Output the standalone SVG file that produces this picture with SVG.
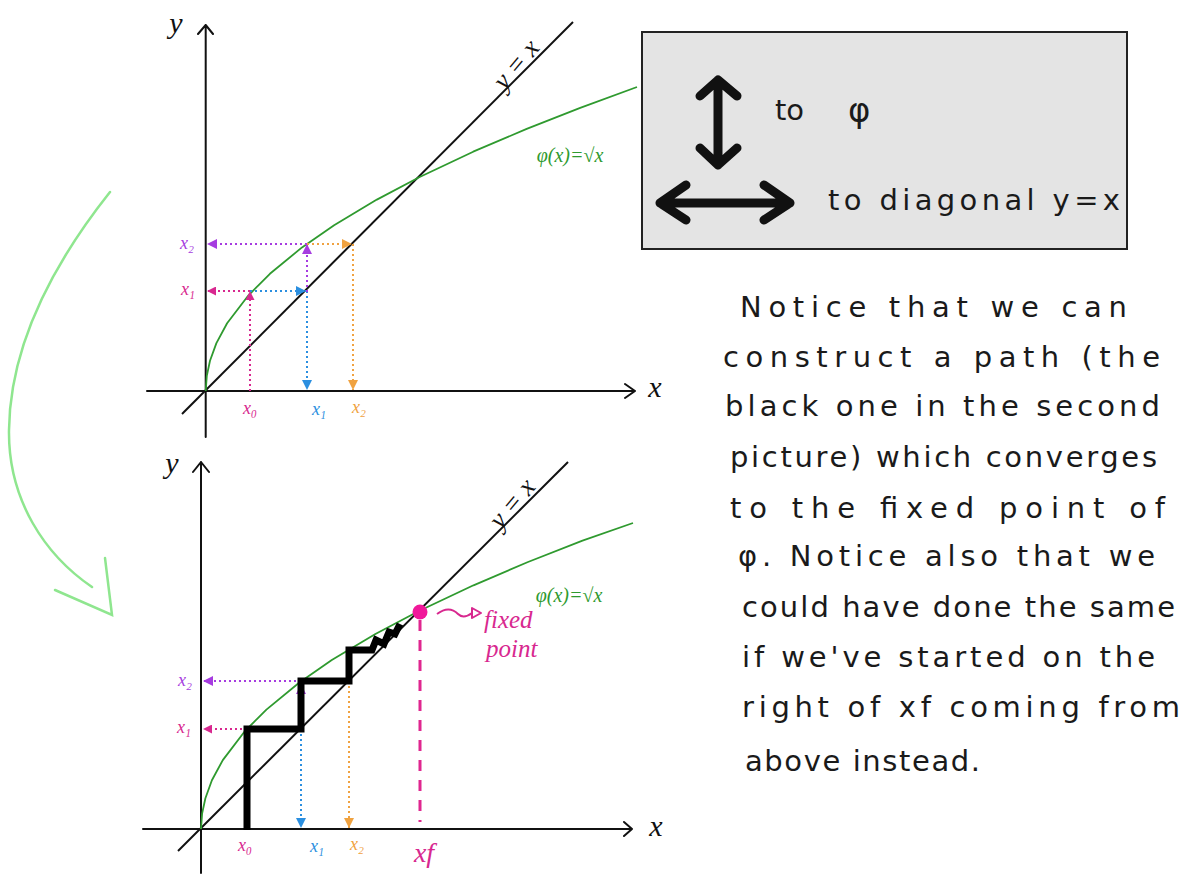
<svg xmlns="http://www.w3.org/2000/svg" width="1193" height="877" viewBox="0 0 1193 877">
<defs>
<style>
.ax{stroke:#111;stroke-width:2;fill:none;stroke-linecap:round;stroke-linejoin:round}
.diag{stroke:#111;stroke-width:2;fill:none}
.curve{stroke:#2f9a2f;stroke-width:1.8;fill:none;stroke-linejoin:round}
.dot{stroke-width:2;stroke-dasharray:2 3;fill:none}
.mag{stroke:#d8288f}
.pur{stroke:#a63ce0}
.blu{stroke:#2b8fe0}
.org{stroke:#f0a240}
.lbl{font-family:"Liberation Serif",serif;font-style:italic;font-size:18px;text-anchor:middle;dominant-baseline:middle}
.axl{font-family:"Liberation Serif",serif;font-style:italic;font-size:30px;fill:#111;text-anchor:middle;dominant-baseline:middle}
.hand{font-family:"DejaVu Sans",sans-serif;font-size:29px;fill:#1a1a1a}
.gl{font-family:"Liberation Serif",serif;font-style:italic;font-size:20px;fill:#2f9a2f;text-anchor:middle;dominant-baseline:middle}
.big{stroke:#111;stroke-width:9;fill:none;stroke-linecap:round;stroke-linejoin:round}
.fp{font-family:"Liberation Serif",serif;font-style:italic;font-size:25px;fill:#d8288f}
</style>
<marker id="mm" viewBox="0 0 10 10" refX="10" refY="5" markerWidth="9" markerHeight="9" markerUnits="userSpaceOnUse" orient="auto"><path d="M0,0 L10,5 L0,10 z" fill="#d8288f"/></marker>
<marker id="mp" viewBox="0 0 10 10" refX="10" refY="5" markerWidth="10" markerHeight="10" markerUnits="userSpaceOnUse" orient="auto"><path d="M0,0 L10,5 L0,10 z" fill="#a63ce0"/></marker>
<marker id="mb" viewBox="0 0 10 10" refX="10" refY="5" markerWidth="10" markerHeight="10" markerUnits="userSpaceOnUse" orient="auto"><path d="M0,0 L10,5 L0,10 z" fill="#2b8fe0"/></marker>
<marker id="mo" viewBox="0 0 10 10" refX="10" refY="5" markerWidth="10" markerHeight="10" markerUnits="userSpaceOnUse" orient="auto"><path d="M0,0 L10,5 L0,10 z" fill="#f0a240"/></marker>
</defs>
<rect width="1193" height="877" fill="#fff"/>

<!-- big green transition arrow -->
<g id="transition-arrow" stroke="#8fe68f" stroke-width="2.5" fill="none" stroke-linecap="round">
<path d="M110,192 C60,255 10,340 9,430 C8,500 45,555 92,587"/>
<path d="M55,590 L112,615 L105,558"/>
</g>

<!-- top plot -->
<g id="plot-top">
<path class="ax" d="M147,391 H635 M625,384 L635,391 L625,398"/>
<path class="ax" d="M205.7,437 V25 M198,34 L205.7,25 L213,34"/>
<text class="axl" x="176" y="26">y</text>
<text class="axl" x="655" y="390">x</text>
<line class="diag" x1="182" y1="414" x2="573" y2="22"/>
<text class="axl" transform="translate(518,66) rotate(-50)" style="font-size:27px">y = x</text>
<polyline class="curve" points="205.7,391 206.8,375.9 210,360.7 216.4,343.1 227.1,323.3 248.5,295.3 269.9,273.8 302,247.4 334.1,225.2 376.9,199.6 419.7,177 473.2,151.7 526.7,128.9 580.2,107.9 637,87"/>
<text class="gl" x="570" y="157">φ(x)=√x</text>
<g id="cobweb-top">
<line class="dot mag" x1="250" y1="391" x2="250" y2="291" marker-end="url(#mm)"/>
<line class="dot mag" x1="250" y1="291" x2="207" y2="291" marker-end="url(#mm)"/>
<line class="dot blu" x1="250" y1="291" x2="306" y2="291" marker-end="url(#mb)"/>
<line class="dot blu" x1="307" y1="291" x2="307" y2="390" marker-end="url(#mb)"/>
<line class="dot pur" x1="307" y1="292" x2="307" y2="244" marker-end="url(#mp)"/>
<line class="dot pur" x1="307" y1="244" x2="207" y2="244" marker-end="url(#mp)"/>
<line class="dot org" x1="307" y1="244" x2="352" y2="244" marker-end="url(#mo)"/>
<line class="dot org" x1="353" y1="244" x2="353" y2="390" marker-end="url(#mo)"/>
</g>
<text class="lbl" x="187" y="245" fill="#a63ce0">x₂</text>
<text class="lbl" x="188" y="291" fill="#d8288f">x₁</text>
<text class="lbl" x="250" y="410" fill="#d8288f">x₀</text>
<text class="lbl" x="319" y="411" fill="#2b8fe0">x₁</text>
<text class="lbl" x="359" y="409" fill="#f0a240">x₂</text>
</g>

<!-- bottom plot -->
<g id="plot-bottom">
<path class="ax" d="M143,829 H632 M624,822 L632,829 L624,836"/>
<path class="ax" d="M201,873 V462 M193,472 L201,462 L209,472"/>
<text class="axl" x="172" y="466">y</text>
<text class="axl" x="656" y="829">x</text>
<line class="diag" x1="178" y1="851" x2="568" y2="462"/>
<text class="axl" transform="translate(514,505) rotate(-50)" style="font-size:27px">y = x</text>
<polyline class="curve" points="201,829 202.1,813.6 205.4,798.2 211.9,780.3 222.8,760.1 244.6,731.5 266.4,709.6 299.1,682.8 331.8,660.1 375.4,634 419,611 473.5,585.3 528,562 582.5,540.6 633,523"/>
<text class="gl" x="569" y="597">φ(x)=√x</text>
<g id="cobweb-bottom">
<line class="dot mag" x1="247" y1="729" x2="203" y2="729" marker-end="url(#mm)"/>
<line class="dot pur" x1="301" y1="681" x2="203" y2="681" marker-end="url(#mp)"/>
<line class="dot pur" x1="301" y1="700" x2="301" y2="684" marker-end="url(#mp)"/>
<line class="dot blu" x1="301" y1="729" x2="301" y2="828" marker-end="url(#mb)"/>
<line class="dot org" x1="349" y1="681" x2="349" y2="828" marker-end="url(#mo)"/>
</g>
<path id="black-path" d="M247,830 V729 H301 V681 H349 V650 H372 L376,640 L384,644 L389,632 L395,634 L400,624" stroke="#000" stroke-width="7" fill="none" stroke-linejoin="miter"/>
<line x1="420" y1="620" x2="420" y2="822" stroke="#e0268f" stroke-width="3" stroke-dasharray="11 9"/>
<circle cx="420" cy="612" r="7.5" fill="#f0189a"/>
<path d="M437,614 C445,608 452,608 458,614 C463,619 468,616 472,613" stroke="#d8288f" stroke-width="2" fill="none"/>
<path d="M472,608 L481,613 L472,618 z" stroke="#d8288f" stroke-width="2" fill="none" stroke-linejoin="round"/>
<text class="fp" x="484" y="628">fixed</text>
<text class="fp" x="486" y="657">point</text>
<text class="lbl" x="185" y="682" fill="#a63ce0">x₂</text>
<text class="lbl" x="184" y="729" fill="#d8288f">x₁</text>
<text class="lbl" x="245" y="847" fill="#d8288f">x₀</text>
<text class="lbl" x="317" y="848" fill="#2b8fe0">x₁</text>
<text class="lbl" x="357" y="846" fill="#f0a240">x₂</text>
<text class="lbl" x="424" y="856" fill="#d8288f" style="font-size:28px">xf</text>
</g>

<!-- legend box -->
<g id="legend">
<rect x="642" y="32" width="485" height="217" fill="#e4e4e4" stroke="#222" stroke-width="2"/>
<path class="big" d="M718,80 V165 M700,96 L718,80 L737,96 M700,148 L718,165 L737,148"/>
<path class="big" d="M660,203 H790 M686,185 L660,203 L686,220 M764,185 L790,203 L764,220"/>
<text class="hand" x="775" y="120">to</text>
<text class="hand" x="848" y="122" style="font-size:34px">φ</text>
<text class="hand" x="828" y="210" textLength="292" lengthAdjust="spacing">to  diagonal y=x</text>
</g>

<!-- note -->
<g id="note" class="hand">
<text x="740" y="317" textLength="387" lengthAdjust="spacing">Notice that we can</text>
<text x="723" y="367" textLength="437" lengthAdjust="spacing">construct a path (the</text>
<text x="725" y="416" textLength="435" lengthAdjust="spacing">black one in the second</text>
<text x="730" y="467" textLength="427" lengthAdjust="spacing">picture) which converges</text>
<text x="730" y="518" textLength="435" lengthAdjust="spacing">to the fixed point of</text>
<text x="738" y="566" textLength="417" lengthAdjust="spacing">φ. Notice also that we</text>
<text x="742" y="617" textLength="433" lengthAdjust="spacing">could have done the same</text>
<text x="742" y="667" textLength="413" lengthAdjust="spacing">if we've started on the</text>
<text x="742" y="717" textLength="438" lengthAdjust="spacing">right of xf coming from</text>
<text x="745" y="771" textLength="235" lengthAdjust="spacing">above instead.</text>
</g>
</svg>
